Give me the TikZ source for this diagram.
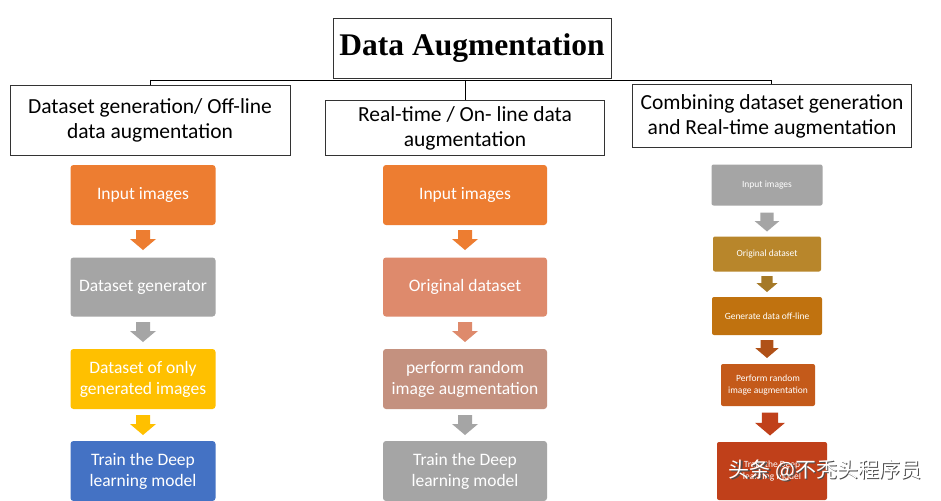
\documentclass[tikz,border=0pt]{standalone}
\usepackage{fontspec}
\setmainfont{Carlito}
\newfontfamily\titlefont{Liberation Serif}
\newfontfamily\cjk{Noto Sans CJK SC}
\definecolor{ora}{HTML}{ED7D31}
\definecolor{gry}{HTML}{A5A5A5}
\definecolor{yel}{HTML}{FFC000}
\definecolor{blu}{HTML}{4472C4}
\definecolor{sal}{HTML}{DE8A6C}
\definecolor{dus}{HTML}{C4917F}
\definecolor{ra}{HTML}{B8862B}
\definecolor{rb}{HTML}{C0720F}
\definecolor{rc}{HTML}{C45A1A}
\definecolor{rd}{HTML}{C0401A}
\begin{document}
\begin{tikzpicture}[x=1pt,y=-1pt,
 hdr/.style={draw=black!80,line width=0.8pt,fill=white,align=center,font=\fontsize{21.5}{25}\selectfont},
 bx/.style={fill=#1,rounded corners=3pt,text=white,align=center,font=\fontsize{17.5}{21}\selectfont,inner sep=0pt},
 sbx/.style={fill=#1,rounded corners=2pt,text=white,align=center,font=\fontsize{9.5}{12}\selectfont,inner sep=0pt},
 pics/dar/.style args={#1/#2}{code={\fill[#1,scale=#2] (-7,-10) -- (7,-10) -- (7,-1) -- (13,-1) -- (0,10) -- (-13,-1) -- (-7,-1) -- cycle;}}]
\useasboundingbox (0,0) rectangle (941,500);
\fill[white] (0,0) rectangle (941,500);
% header
\node[hdr,minimum width=278,minimum height=60,font=\titlefont\bfseries\fontsize{31.5}{35}\selectfont] (t) at (472,48) {Data Augmentation};
\coordinate (jl) at (150,80); \coordinate (jr) at (771,80); \coordinate (jm) at (465,80);
\draw[line width=0.8pt] (jl) -- (jr);
\draw[line width=0.8pt] (jm) -- (465,100);
\draw[line width=0.8pt] (jl) -- (150,85);
\draw[line width=0.8pt] (jr) -- (771,85);
\node[hdr,minimum width=280,minimum height=70] (h1) at (150,120) {Dataset generation/ Off-line\\data augmentation};
\node[hdr,minimum width=279,minimum height=55] (h2) at (465,128) {Real-time / On- line data\\augmentation};
\node[hdr,minimum width=279,minimum height=63] (h3) at (772,116) {Combining dataset generation\\and Real-time augmentation};
% left
\node[bx=ora,minimum width=145,minimum height=60] (a1) at (143,195) {Input images};
\node[bx=gry,minimum width=145,minimum height=59] (a2) at (143,287) {Dataset generator};
\node[bx=yel,minimum width=145,minimum height=60] (a3) at (143,379) {Dataset of only\\generated images};
\node[bx=blu,minimum width=145,minimum height=60] (a4) at (143,471) {Train the Deep\\learning model};
\pic at (143,240) {dar={ora/1}}; \pic at (143,332) {dar={gry/1}}; \pic at (143,425) {dar={yel/1}};
% middle
\node[bx=ora,minimum width=164,minimum height=60] (b1) at (465,195) {Input images};
\node[bx=sal,minimum width=164,minimum height=59] (b2) at (465,287) {Original dataset};
\node[bx=dus,minimum width=164,minimum height=60] (b3) at (465,379) {perform random\\image augmentation};
\node[bx=gry,minimum width=164,minimum height=60] (b4) at (465,471) {Train the Deep\\learning model};
\pic at (465,240) {dar={ora/1}}; \pic at (465,332) {dar={sal/1}}; \pic at (465,425) {dar={gry/1}};
% right
\node[sbx=gry,minimum width=111,minimum height=41] (c1) at (767,185) {Input images};
\node[sbx=ra,minimum width=108,minimum height=35] (c2) at (767,254) {Original dataset};
\node[sbx=rb,minimum width=110,minimum height=38] (c3) at (767,316) {Generate data off-line};
\node[sbx=rc,minimum width=94,minimum height=42] (c4) at (768,385) {Perform random\\image augmentation};
\node[sbx=rd,minimum width=110,minimum height=58] (c5) at (772,471) {Train the Deep\\learning model};
\pic at (767,222) {dar={gry/0.95}};
\pic at (767,284) {dar={ra!90!black/0.8}};
\pic at (767,349) {dar={rc!90!black/0.9}};
\pic at (770,424) {dar={rd/1.15}};
% watermark
\node[text=black!70,font=\cjk\fontsize{21}{24}\selectfont,anchor=east] at (926.5,471.5) {头条 @不秃头程序员};
\node[text=white,font=\cjk\fontsize{21}{24}\selectfont,anchor=east] (wm) at (925,470) {头条 @不秃头程序员};
\end{tikzpicture}
\end{document}
